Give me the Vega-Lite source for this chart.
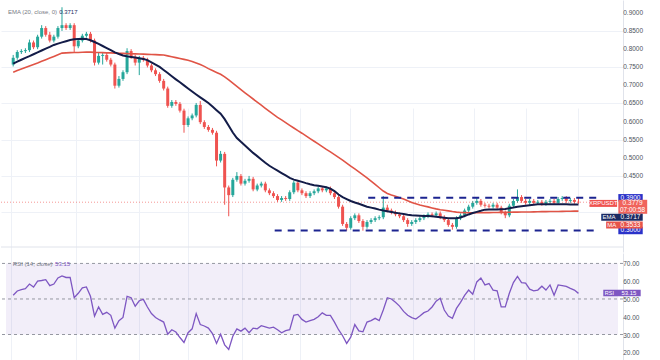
{
"$schema":"https://vega.github.io/schema/vega-lite/v6.json",
"padding":0,
"background":"white",
"width":622,"height":360,
"config":{"view":{"stroke":null},"text":{"font":"Liberation Sans"},"axis":{"labelFont":"Liberation Sans"}},
"datasets":{
"levels":[{"level":0.39,"start":87.3,"end":144.1},{"level":0.3,"start":64.3,"end":144.1}],
"plabels":[{"v":0.45},{"v":0.5},{"v":0.55},{"v":0.6},{"v":0.65},{"v":0.7},{"v":0.75},{"v":0.8},{"v":0.85},{"v":0.9}],
"rlabels":[{"v":20},{"v":30},{"v":40},{"v":50},{"v":60},{"v":70}],
"bars":[
{"k":0,"o":0.7571,"h":0.7836,"l":0.7518,"c":0.7757,"ema":0.7598,"ma":0.736,"rsi":52.1},
{"k":1,"o":0.7757,"h":0.7968,"l":0.7704,"c":0.7915,"ema":0.7651,"ma":0.7405,"rsi":54.5},
{"k":2,"o":0.7915,"h":0.7995,"l":0.7862,"c":0.7942,"ema":0.7704,"ma":0.7447,"rsi":55.3},
{"k":3,"o":0.7942,"h":0.8021,"l":0.7889,"c":0.7968,"ema":0.7757,"ma":0.7489,"rsi":55.8},
{"k":4,"o":0.7968,"h":0.8259,"l":0.7915,"c":0.818,"ema":0.7804,"ma":0.7532,"rsi":58.4},
{"k":5,"o":0.818,"h":0.8233,"l":0.7995,"c":0.8048,"ema":0.7855,"ma":0.7574,"rsi":56.7},
{"k":6,"o":0.8048,"h":0.8392,"l":0.7995,"c":0.8339,"ema":0.7905,"ma":0.7616,"rsi":60.1},
{"k":7,"o":0.8339,"h":0.8656,"l":0.8286,"c":0.8577,"ema":0.7958,"ma":0.7661,"rsi":60.4},
{"k":8,"o":0.8577,"h":0.863,"l":0.8339,"c":0.8392,"ema":0.8008,"ma":0.7706,"rsi":60.9},
{"k":9,"o":0.8392,"h":0.8471,"l":0.818,"c":0.8233,"ema":0.8058,"ma":0.7751,"rsi":57.5},
{"k":10,"o":0.8233,"h":0.8392,"l":0.818,"c":0.8339,"ema":0.8111,"ma":0.7796,"rsi":58.4},
{"k":11,"o":0.8339,"h":0.863,"l":0.8286,"c":0.8577,"ema":0.8148,"ma":0.7841,"rsi":61.8},
{"k":12,"o":0.8577,"h":0.915,"l":0.8497,"c":0.8656,"ema":0.8183,"ma":0.7886,"rsi":63.0},
{"k":13,"o":0.8656,"h":0.8709,"l":0.8524,"c":0.8577,"ema":0.8214,"ma":0.7894,"rsi":62.1},
{"k":14,"o":0.8577,"h":0.8709,"l":0.8524,"c":0.8656,"ema":0.8246,"ma":0.7899,"rsi":62.1},
{"k":15,"o":0.8656,"h":0.8709,"l":0.7889,"c":0.8074,"ema":0.8265,"ma":0.7902,"rsi":50.7},
{"k":16,"o":0.8074,"h":0.8286,"l":0.8021,"c":0.8233,"ema":0.8272,"ma":0.7905,"rsi":53.2},
{"k":17,"o":0.8233,"h":0.8418,"l":0.818,"c":0.8365,"ema":0.828,"ma":0.791,"rsi":56.3},
{"k":18,"o":0.8365,"h":0.8471,"l":0.8312,"c":0.8418,"ema":0.8272,"ma":0.7913,"rsi":56.8},
{"k":19,"o":0.8418,"h":0.8471,"l":0.818,"c":0.8233,"ema":0.8241,"ma":0.7913,"rsi":51.5},
{"k":20,"o":0.8233,"h":0.8286,"l":0.7545,"c":0.7624,"ema":0.8193,"ma":0.7907,"rsi":40.4},
{"k":21,"o":0.7624,"h":0.7889,"l":0.7571,"c":0.781,"ema":0.814,"ma":0.7905,"rsi":45.5},
{"k":22,"o":0.781,"h":0.7915,"l":0.7571,"c":0.7836,"ema":0.8082,"ma":0.7899,"rsi":41.3},
{"k":23,"o":0.7836,"h":0.7889,"l":0.7651,"c":0.7704,"ema":0.8026,"ma":0.7894,"rsi":42.5},
{"k":24,"o":0.7704,"h":0.7757,"l":0.7518,"c":0.7571,"ema":0.7966,"ma":0.7892,"rsi":40.8},
{"k":25,"o":0.7571,"h":0.7624,"l":0.691,"c":0.6989,"ema":0.7907,"ma":0.7886,"rsi":33.6},
{"k":26,"o":0.6989,"h":0.7254,"l":0.6936,"c":0.7175,"ema":0.7862,"ma":0.7881,"rsi":37.8},
{"k":27,"o":0.7175,"h":0.7413,"l":0.7122,"c":0.736,"ema":0.782,"ma":0.7878,"rsi":39.6},
{"k":28,"o":0.736,"h":0.8021,"l":0.7307,"c":0.7942,"ema":0.7796,"ma":0.7873,"rsi":51.5},
{"k":29,"o":0.7942,"h":0.7995,"l":0.773,"c":0.7783,"ema":0.778,"ma":0.7868,"rsi":50.7},
{"k":30,"o":0.7783,"h":0.7836,"l":0.7545,"c":0.7624,"ema":0.7765,"ma":0.7865,"rsi":45.9},
{"k":31,"o":0.7624,"h":0.781,"l":0.728,"c":0.7757,"ema":0.7743,"ma":0.786,"rsi":49.0},
{"k":32,"o":0.7757,"h":0.781,"l":0.7651,"c":0.7704,"ema":0.7722,"ma":0.7857,"rsi":49.8},
{"k":33,"o":0.7704,"h":0.7757,"l":0.7492,"c":0.7545,"ema":0.7693,"ma":0.7852,"rsi":45.5},
{"k":34,"o":0.7545,"h":0.7598,"l":0.736,"c":0.7413,"ema":0.763,"ma":0.7847,"rsi":41.8},
{"k":35,"o":0.7413,"h":0.7466,"l":0.7254,"c":0.7307,"ema":0.7569,"ma":0.7844,"rsi":39.6},
{"k":36,"o":0.7307,"h":0.736,"l":0.7069,"c":0.7122,"ema":0.7505,"ma":0.7839,"rsi":38.2},
{"k":37,"o":0.7122,"h":0.7175,"l":0.6857,"c":0.691,"ema":0.7423,"ma":0.7833,"rsi":37.0},
{"k":38,"o":0.691,"h":0.6963,"l":0.6381,"c":0.6434,"ema":0.7336,"ma":0.781,"rsi":30.2},
{"k":39,"o":0.6434,"h":0.6593,"l":0.6381,"c":0.654,"ema":0.7249,"ma":0.7786,"rsi":32.7},
{"k":40,"o":0.654,"h":0.6593,"l":0.6434,"c":0.6487,"ema":0.7164,"ma":0.7762,"rsi":31.4},
{"k":41,"o":0.6487,"h":0.654,"l":0.6249,"c":0.6302,"ema":0.7082,"ma":0.7738,"rsi":28.3},
{"k":42,"o":0.6302,"h":0.6355,"l":0.5693,"c":0.5905,"ema":0.6997,"ma":0.7714,"rsi":25.5},
{"k":43,"o":0.5905,"h":0.6143,"l":0.5852,"c":0.609,"ema":0.6913,"ma":0.7688,"rsi":31.0},
{"k":44,"o":0.609,"h":0.6222,"l":0.6037,"c":0.6169,"ema":0.6828,"ma":0.7656,"rsi":33.2},
{"k":45,"o":0.6169,"h":0.6513,"l":0.6116,"c":0.646,"ema":0.6746,"ma":0.7614,"rsi":41.8},
{"k":46,"o":0.646,"h":0.6566,"l":0.5931,"c":0.5984,"ema":0.6667,"ma":0.7571,"rsi":35.6},
{"k":47,"o":0.5984,"h":0.6037,"l":0.5799,"c":0.5852,"ema":0.659,"ma":0.7521,"rsi":34.8},
{"k":48,"o":0.5852,"h":0.5905,"l":0.572,"c":0.5772,"ema":0.6511,"ma":0.7458,"rsi":33.6},
{"k":49,"o":0.5772,"h":0.5825,"l":0.564,"c":0.5693,"ema":0.6415,"ma":0.7405,"rsi":30.5},
{"k":50,"o":0.5693,"h":0.5746,"l":0.4767,"c":0.4926,"ema":0.6315,"ma":0.7354,"rsi":25.0},
{"k":51,"o":0.4926,"h":0.5191,"l":0.4873,"c":0.5111,"ema":0.6217,"ma":0.7304,"rsi":30.2},
{"k":52,"o":0.5111,"h":0.5164,"l":0.3709,"c":0.4185,"ema":0.6066,"ma":0.7233,"rsi":24.2},
{"k":53,"o":0.4185,"h":0.4238,"l":0.3392,"c":0.3974,"ema":0.5884,"ma":0.7146,"rsi":21.6},
{"k":54,"o":0.3974,"h":0.445,"l":0.3921,"c":0.4397,"ema":0.5698,"ma":0.7058,"rsi":29.0},
{"k":55,"o":0.4397,"h":0.4608,"l":0.4344,"c":0.4503,"ema":0.5548,"ma":0.6971,"rsi":33.2},
{"k":56,"o":0.4503,"h":0.4556,"l":0.4238,"c":0.4291,"ema":0.5442,"ma":0.6881,"rsi":31.9},
{"k":57,"o":0.4291,"h":0.4423,"l":0.4238,"c":0.437,"ema":0.5341,"ma":0.6794,"rsi":33.6},
{"k":58,"o":0.437,"h":0.4503,"l":0.4317,"c":0.4423,"ema":0.5238,"ma":0.6709,"rsi":31.0},
{"k":59,"o":0.4423,"h":0.4476,"l":0.408,"c":0.4132,"ema":0.5138,"ma":0.6622,"rsi":33.6},
{"k":60,"o":0.4132,"h":0.4291,"l":0.408,"c":0.4238,"ema":0.5048,"ma":0.6537,"rsi":33.2},
{"k":61,"o":0.4238,"h":0.4344,"l":0.4185,"c":0.4291,"ema":0.4958,"ma":0.6452,"rsi":35.0},
{"k":62,"o":0.4291,"h":0.4344,"l":0.4053,"c":0.4106,"ema":0.4868,"ma":0.6365,"rsi":34.3},
{"k":63,"o":0.4106,"h":0.4159,"l":0.3974,"c":0.4027,"ema":0.4783,"ma":0.628,"rsi":33.6},
{"k":64,"o":0.4027,"h":0.408,"l":0.3894,"c":0.3948,"ema":0.4714,"ma":0.6196,"rsi":34.1},
{"k":65,"o":0.3948,"h":0.4,"l":0.3789,"c":0.3841,"ema":0.4648,"ma":0.6116,"rsi":32.7},
{"k":66,"o":0.3841,"h":0.3948,"l":0.3789,"c":0.3894,"ema":0.4582,"ma":0.6045,"rsi":31.0},
{"k":67,"o":0.3894,"h":0.3948,"l":0.3815,"c":0.3868,"ema":0.4516,"ma":0.5971,"rsi":32.2},
{"k":68,"o":0.3868,"h":0.4106,"l":0.3815,"c":0.4053,"ema":0.445,"ma":0.5897,"rsi":32.7},
{"k":69,"o":0.4053,"h":0.437,"l":0.4,"c":0.4317,"ema":0.4402,"ma":0.5823,"rsi":40.8},
{"k":70,"o":0.4317,"h":0.4344,"l":0.4053,"c":0.4106,"ema":0.437,"ma":0.5749,"rsi":41.3},
{"k":71,"o":0.4106,"h":0.4159,"l":0.3974,"c":0.4027,"ema":0.4339,"ma":0.568,"rsi":38.5},
{"k":72,"o":0.4027,"h":0.408,"l":0.3894,"c":0.3948,"ema":0.4304,"ma":0.5606,"rsi":37.0},
{"k":73,"o":0.3948,"h":0.408,"l":0.3894,"c":0.4027,"ema":0.4272,"ma":0.5532,"rsi":37.8},
{"k":74,"o":0.4027,"h":0.4132,"l":0.3974,"c":0.408,"ema":0.4249,"ma":0.5458,"rsi":38.5},
{"k":75,"o":0.408,"h":0.4212,"l":0.4027,"c":0.4159,"ema":0.423,"ma":0.5384,"rsi":40.0},
{"k":76,"o":0.4159,"h":0.4212,"l":0.4053,"c":0.4106,"ema":0.4212,"ma":0.5312,"rsi":42.2},
{"k":77,"o":0.4106,"h":0.4212,"l":0.4053,"c":0.4159,"ema":0.4193,"ma":0.5235,"rsi":40.8},
{"k":78,"o":0.4159,"h":0.4212,"l":0.3974,"c":0.4027,"ema":0.4151,"ma":0.5164,"rsi":40.8},
{"k":79,"o":0.4027,"h":0.408,"l":0.3868,"c":0.3921,"ema":0.4087,"ma":0.509,"rsi":37.0},
{"k":80,"o":0.3921,"h":0.3974,"l":0.3603,"c":0.3656,"ema":0.3992,"ma":0.5013,"rsi":32.7},
{"k":81,"o":0.3656,"h":0.3709,"l":0.3127,"c":0.318,"ema":0.3921,"ma":0.4937,"rsi":29.3},
{"k":82,"o":0.318,"h":0.3233,"l":0.2995,"c":0.3074,"ema":0.3865,"ma":0.4857,"rsi":25.0},
{"k":83,"o":0.3074,"h":0.3392,"l":0.3022,"c":0.3339,"ema":0.3812,"ma":0.4775,"rsi":28.5},
{"k":84,"o":0.3339,"h":0.3471,"l":0.3286,"c":0.3418,"ema":0.3772,"ma":0.4696,"rsi":35.6},
{"k":85,"o":0.3418,"h":0.3471,"l":0.3207,"c":0.326,"ema":0.3735,"ma":0.4614,"rsi":32.0},
{"k":86,"o":0.326,"h":0.3312,"l":0.2995,"c":0.3101,"ema":0.3696,"ma":0.4532,"rsi":31.5},
{"k":87,"o":0.3101,"h":0.3286,"l":0.3048,"c":0.3233,"ema":0.3656,"ma":0.4452,"rsi":37.0},
{"k":88,"o":0.3233,"h":0.3339,"l":0.318,"c":0.3286,"ema":0.363,"ma":0.4362,"rsi":37.8},
{"k":89,"o":0.3286,"h":0.3392,"l":0.3233,"c":0.3339,"ema":0.3603,"ma":0.427,"rsi":39.1},
{"k":90,"o":0.3339,"h":0.3418,"l":0.3286,"c":0.3365,"ema":0.3574,"ma":0.4177,"rsi":37.8},
{"k":91,"o":0.3365,"h":0.3948,"l":0.3312,"c":0.363,"ema":0.3548,"ma":0.4087,"rsi":43.8},
{"k":92,"o":0.363,"h":0.3709,"l":0.3498,"c":0.355,"ema":0.3529,"ma":0.4021,"rsi":50.7},
{"k":93,"o":0.355,"h":0.3603,"l":0.3445,"c":0.3498,"ema":0.3511,"ma":0.3979,"rsi":50.0},
{"k":94,"o":0.3498,"h":0.355,"l":0.3392,"c":0.3445,"ema":0.3489,"ma":0.3942,"rsi":48.1},
{"k":95,"o":0.3445,"h":0.3498,"l":0.3339,"c":0.3392,"ema":0.3471,"ma":0.3905,"rsi":46.0},
{"k":96,"o":0.3392,"h":0.3445,"l":0.3233,"c":0.3286,"ema":0.3455,"ma":0.3865,"rsi":43.0},
{"k":97,"o":0.3286,"h":0.3339,"l":0.3101,"c":0.318,"ema":0.3436,"ma":0.3817,"rsi":40.8},
{"k":98,"o":0.318,"h":0.3286,"l":0.3127,"c":0.3233,"ema":0.3421,"ma":0.3772,"rsi":39.5},
{"k":99,"o":0.3233,"h":0.3339,"l":0.318,"c":0.3286,"ema":0.3413,"ma":0.3738,"rsi":38.7},
{"k":100,"o":0.3286,"h":0.3392,"l":0.3233,"c":0.3339,"ema":0.3407,"ma":0.3704,"rsi":40.4},
{"k":101,"o":0.3339,"h":0.3445,"l":0.3286,"c":0.3392,"ema":0.3402,"ma":0.3677,"rsi":42.3},
{"k":102,"o":0.3392,"h":0.3498,"l":0.3339,"c":0.3445,"ema":0.3397,"ma":0.3651,"rsi":43.2},
{"k":103,"o":0.3445,"h":0.3498,"l":0.3365,"c":0.3418,"ema":0.3392,"ma":0.3622,"rsi":45.5},
{"k":104,"o":0.3418,"h":0.3524,"l":0.3365,"c":0.3471,"ema":0.3378,"ma":0.3595,"rsi":48.8},
{"k":105,"o":0.3471,"h":0.3524,"l":0.3312,"c":0.3365,"ema":0.3365,"ma":0.3571,"rsi":50.4},
{"k":106,"o":0.3365,"h":0.3418,"l":0.3233,"c":0.3286,"ema":0.3352,"ma":0.3556,"rsi":43.8},
{"k":107,"o":0.3286,"h":0.3339,"l":0.3101,"c":0.3154,"ema":0.3339,"ma":0.354,"rsi":40.4},
{"k":108,"o":0.3154,"h":0.3207,"l":0.3022,"c":0.3101,"ema":0.3339,"ma":0.3521,"rsi":39.1},
{"k":109,"o":0.3101,"h":0.3392,"l":0.3048,"c":0.3339,"ema":0.3339,"ma":0.3505,"rsi":44.7},
{"k":110,"o":0.3339,"h":0.3471,"l":0.3286,"c":0.3418,"ema":0.3357,"ma":0.3495,"rsi":48.1},
{"k":111,"o":0.3418,"h":0.3603,"l":0.3365,"c":0.355,"ema":0.3399,"ma":0.3492,"rsi":52.0},
{"k":112,"o":0.355,"h":0.3709,"l":0.3498,"c":0.3656,"ema":0.3442,"ma":0.3487,"rsi":55.0},
{"k":113,"o":0.3656,"h":0.3815,"l":0.3603,"c":0.3762,"ema":0.3481,"ma":0.3484,"rsi":52.7},
{"k":114,"o":0.3762,"h":0.3921,"l":0.3709,"c":0.3815,"ema":0.3513,"ma":0.3487,"rsi":59.6},
{"k":115,"o":0.3815,"h":0.3868,"l":0.3656,"c":0.3709,"ema":0.3542,"ma":0.3489,"rsi":61.8},
{"k":116,"o":0.3709,"h":0.3762,"l":0.363,"c":0.3682,"ema":0.3574,"ma":0.3492,"rsi":57.9},
{"k":117,"o":0.3682,"h":0.3736,"l":0.3603,"c":0.3656,"ema":0.3577,"ma":0.3492,"rsi":58.7},
{"k":118,"o":0.3656,"h":0.3762,"l":0.3603,"c":0.3709,"ema":0.3577,"ma":0.3495,"rsi":55.0},
{"k":119,"o":0.3709,"h":0.3762,"l":0.3577,"c":0.363,"ema":0.3577,"ma":0.3497,"rsi":54.6},
{"k":120,"o":0.363,"h":0.3682,"l":0.3445,"c":0.3498,"ema":0.3585,"ma":0.35,"rsi":45.5},
{"k":121,"o":0.3498,"h":0.355,"l":0.3339,"c":0.3418,"ema":0.3595,"ma":0.35,"rsi":45.5},
{"k":122,"o":0.3418,"h":0.3736,"l":0.3365,"c":0.3682,"ema":0.3611,"ma":0.3503,"rsi":53.2},
{"k":123,"o":0.3682,"h":0.3868,"l":0.363,"c":0.3815,"ema":0.3632,"ma":0.3505,"rsi":59.2},
{"k":124,"o":0.3815,"h":0.4132,"l":0.3762,"c":0.3921,"ema":0.3656,"ma":0.3505,"rsi":62.7},
{"k":125,"o":0.3921,"h":0.3974,"l":0.3762,"c":0.3815,"ema":0.3669,"ma":0.3508,"rsi":59.2},
{"k":126,"o":0.3815,"h":0.3868,"l":0.3709,"c":0.3762,"ema":0.3683,"ma":0.3511,"rsi":58.9},
{"k":127,"o":0.3762,"h":0.3868,"l":0.3709,"c":0.3815,"ema":0.3696,"ma":0.3511,"rsi":55.5},
{"k":128,"o":0.3815,"h":0.3868,"l":0.3709,"c":0.3762,"ema":0.3709,"ma":0.3513,"rsi":54.6},
{"k":129,"o":0.3762,"h":0.3841,"l":0.3709,"c":0.3789,"ema":0.3722,"ma":0.3516,"rsi":55.0},
{"k":130,"o":0.3789,"h":0.3841,"l":0.3682,"c":0.3736,"ema":0.3722,"ma":0.3519,"rsi":57.2},
{"k":131,"o":0.3736,"h":0.3841,"l":0.3682,"c":0.3789,"ema":0.3722,"ma":0.3519,"rsi":55.0},
{"k":132,"o":0.3789,"h":0.3868,"l":0.3736,"c":0.3815,"ema":0.372,"ma":0.3521,"rsi":57.9},
{"k":133,"o":0.3815,"h":0.3868,"l":0.3709,"c":0.3762,"ema":0.372,"ma":0.3524,"rsi":52.1},
{"k":134,"o":0.3762,"h":0.3921,"l":0.3709,"c":0.3868,"ema":0.372,"ma":0.3524,"rsi":57.9},
{"k":135,"o":0.3868,"h":0.3948,"l":0.3815,"c":0.3894,"ema":0.372,"ma":0.3526,"rsi":57.5},
{"k":136,"o":0.3894,"h":0.3948,"l":0.3762,"c":0.3815,"ema":0.372,"ma":0.3529,"rsi":57.1},
{"k":137,"o":0.3815,"h":0.3894,"l":0.3762,"c":0.3841,"ema":0.3717,"ma":0.3529,"rsi":56.0},
{"k":138,"o":0.3841,"h":0.3894,"l":0.3736,"c":0.3789,"ema":0.3717,"ma":0.3532,"rsi":55.0},
{"k":139,"o":0.3789,"h":0.3921,"l":0.3736,"c":0.3779,"ema":0.3717,"ma":0.3533,"rsi":53.15}
]},
"data":{"name":"bars"},
"resolve":{"scale":{"y":"independent"},"axis":{"y":"independent"}},
"layer":[
{"layer":[
{"mark":{"type":"rule","strokeWidth":1},
 "encoding":{
  "x":{"field":"k","type":"quantitative","title":null,"scale":{"domain":[-1.77,148.72],"nice":false,"zero":false},
   "axis":{"orient":"bottom","values":[-0.6,15.4,30.9,43,56.3,70.6,82.7,98.2,113.4,126,139],"labels":false,"ticks":false,"domain":false,"grid":true,"gridColor":"#eef1f7","title":null}},
  "y":{"field":"l","type":"quantitative","title":null,"scale":{"domain":[0.2545,0.92116],"range":[252,0],"nice":false,"zero":false},
   "axis":{"orient":"right","values":[0.35,0.4,0.45,0.5,0.55,0.6,0.65,0.7,0.75,0.8,0.85,0.9],"labels":false,"ticks":false,"domain":true,"domainColor":"#e0e3eb","grid":true,"gridColor":"#eef1f7","title":null}},
  "y2":{"field":"h"},
  "color":{"condition":{"test":"datum.c >= datum.o","value":"#26a69a"},"value":"#ef5350"}}},
{"transform":[{"filter":"datum.k == 139"}],"mark":{"type":"rule","color":"#e0e3eb","strokeWidth":1},
 "encoding":{"y":{"datum":0.2545,"type":"quantitative","title":null,"scale":{"domain":[0.2545,0.92116],"range":[252,0],"nice":false,"zero":false}}}},
{"transform":[{"filter":"datum.k == 139"}],"mark":{"type":"rule","color":"#ef5350","strokeDash":[1,2],"strokeWidth":1,"opacity":0.6},
 "encoding":{"y":{"field":"c","type":"quantitative","title":null,"scale":{"domain":[0.2545,0.92116],"range":[252,0],"nice":false,"zero":false}}}},
{"mark":{"type":"bar","size":3,"orient":"vertical"},
 "encoding":{
  "x":{"field":"k","type":"quantitative","title":null,"scale":{"domain":[-1.77,148.72],"nice":false,"zero":false}},
  "y":{"field":"o","type":"quantitative","title":null,"scale":{"domain":[0.2545,0.92116],"range":[252,0],"nice":false,"zero":false}},
  "y2":{"field":"c"},
  "color":{"condition":{"test":"datum.c >= datum.o","value":"#26a69a"},"value":"#ef5350"}}},
{"mark":{"type":"line","color":"#e05446","strokeWidth":1.6},
 "encoding":{
  "x":{"field":"k","type":"quantitative","title":null,"scale":{"domain":[-1.77,148.72],"nice":false,"zero":false}},
  "y":{"field":"ma","type":"quantitative","title":null,"scale":{"domain":[0.2545,0.92116],"range":[252,0],"nice":false,"zero":false}}}},
{"mark":{"type":"line","color":"#131c48","strokeWidth":2},
 "encoding":{
  "x":{"field":"k","type":"quantitative","title":null,"scale":{"domain":[-1.77,148.72],"nice":false,"zero":false}},
  "y":{"field":"ema","type":"quantitative","title":null,"scale":{"domain":[0.2545,0.92116],"range":[252,0],"nice":false,"zero":false}}}},
{"data":{"name":"levels"},"mark":{"type":"rule","color":"#1c2490","strokeWidth":2,"strokeDash":[7,6]},
 "encoding":{
  "x":{"field":"start","type":"quantitative","title":null,"scale":{"domain":[-1.77,148.72],"nice":false,"zero":false}},
  "x2":{"field":"end"},
  "y":{"field":"level","type":"quantitative","title":null,"scale":{"domain":[0.2545,0.92116],"range":[252,0],"nice":false,"zero":false}}}},
{"data":{"name":"plabels"},"mark":{"type":"text","color":"#50535e","fontSize":6.5,"align":"left","baseline":"middle"},
 "encoding":{
  "x":{"datum":150.0,"type":"quantitative","title":null,"scale":{"domain":[-1.77,148.72],"nice":false,"zero":false}},
  "y":{"field":"v","type":"quantitative","title":null,"scale":{"domain":[0.2545,0.92116],"range":[252,0],"nice":false,"zero":false}},
  "text":{"field":"v","format":".4f"}}},
{"data":{"name":"levels"},"mark":{"type":"bar","orient":"horizontal","size":7.5,"color":"#2a32c9"},
 "encoding":{
  "x":{"datum":148.8,"type":"quantitative","title":null,"scale":{"domain":[-1.77,148.72],"nice":false,"zero":false}},
  "x2":{"datum":154.8},
  "y":{"field":"level","type":"quantitative","title":null,"scale":{"domain":[0.2545,0.92116],"range":[252,0],"nice":false,"zero":false}}}},
{"data":{"name":"levels"},"mark":{"type":"text","color":"white","fontSize":6.5,"align":"center","baseline":"middle"},
 "encoding":{
  "x":{"datum":151.8,"type":"quantitative","title":null,"scale":{"domain":[-1.77,148.72],"nice":false,"zero":false}},
  "y":{"field":"level","type":"quantitative","title":null,"scale":{"domain":[0.2545,0.92116],"range":[252,0],"nice":false,"zero":false}},
  "text":{"field":"level","format":".4f"}}},
{"transform":[{"filter":"datum.k == 139"}],"mark":{"type":"bar","orient":"horizontal","size":7,"color":"#ef5350","yOffset":1.2},
 "encoding":{
  "x":{"datum":141.7,"type":"quantitative","title":null,"scale":{"domain":[-1.77,148.72],"nice":false,"zero":false}},
  "x2":{"datum":148.5},
  "y":{"field":"c","type":"quantitative","title":null,"scale":{"domain":[0.2545,0.92116],"range":[252,0],"nice":false,"zero":false}}}},
{"transform":[{"filter":"datum.k == 139"}],"mark":{"type":"text","color":"white","fontSize":6,"align":"center","baseline":"middle","yOffset":1.2},
 "encoding":{
  "x":{"datum":145.1,"type":"quantitative","title":null,"scale":{"domain":[-1.77,148.72],"nice":false,"zero":false}},
  "y":{"field":"c","type":"quantitative","title":null,"scale":{"domain":[0.2545,0.92116],"range":[252,0],"nice":false,"zero":false}},
  "text":{"value":"XRPUSDT"}}},
{"transform":[{"filter":"datum.k == 139"}],"mark":{"type":"bar","orient":"horizontal","size":14,"color":"#f0645c","yOffset":4.6},
 "encoding":{
  "x":{"datum":148.8,"type":"quantitative","title":null,"scale":{"domain":[-1.77,148.72],"nice":false,"zero":false}},
  "x2":{"datum":155.9},
  "y":{"field":"c","type":"quantitative","title":null,"scale":{"domain":[0.2545,0.92116],"range":[252,0],"nice":false,"zero":false}}}},
{"transform":[{"filter":"datum.k == 139"}],"mark":{"type":"text","color":"white","fontSize":6.5,"align":"center","baseline":"middle","yOffset":1.2},
 "encoding":{
  "x":{"datum":152.3,"type":"quantitative","title":null,"scale":{"domain":[-1.77,148.72],"nice":false,"zero":false}},
  "y":{"field":"c","type":"quantitative","title":null,"scale":{"domain":[0.2545,0.92116],"range":[252,0],"nice":false,"zero":false}},
  "text":{"field":"c","format":".4f"}}},
{"transform":[{"filter":"datum.k == 139"}],"mark":{"type":"text","color":"white","fontSize":6.5,"align":"center","baseline":"middle","yOffset":8.2},
 "encoding":{
  "x":{"datum":152.3,"type":"quantitative","title":null,"scale":{"domain":[-1.77,148.72],"nice":false,"zero":false}},
  "y":{"field":"c","type":"quantitative","title":null,"scale":{"domain":[0.2545,0.92116],"range":[252,0],"nice":false,"zero":false}},
  "text":{"value":"07:00:58"}}},
{"transform":[{"filter":"datum.k == 139"}],"mark":{"type":"bar","orient":"horizontal","size":7,"color":"#1b2a63","yOffset":12.8},
 "encoding":{
  "x":{"datum":144.6,"type":"quantitative","title":null,"scale":{"domain":[-1.77,148.72],"nice":false,"zero":false}},
  "x2":{"datum":154.8},
  "y":{"field":"ema","type":"quantitative","title":null,"scale":{"domain":[0.2545,0.92116],"range":[252,0],"nice":false,"zero":false}}}},
{"transform":[{"filter":"datum.k == 139"}],"mark":{"type":"text","color":"white","fontSize":6,"align":"center","baseline":"middle","yOffset":12.8},
 "encoding":{
  "x":{"datum":146.5,"type":"quantitative","title":null,"scale":{"domain":[-1.77,148.72],"nice":false,"zero":false}},
  "y":{"field":"ema","type":"quantitative","title":null,"scale":{"domain":[0.2545,0.92116],"range":[252,0],"nice":false,"zero":false}},
  "text":{"value":"EMA"}}},
{"transform":[{"filter":"datum.k == 139"}],"mark":{"type":"text","color":"white","fontSize":6.5,"align":"center","baseline":"middle","yOffset":12.8},
 "encoding":{
  "x":{"datum":151.8,"type":"quantitative","title":null,"scale":{"domain":[-1.77,148.72],"nice":false,"zero":false}},
  "y":{"field":"ema","type":"quantitative","title":null,"scale":{"domain":[0.2545,0.92116],"range":[252,0],"nice":false,"zero":false}},
  "text":{"field":"ema","format":".4f"}}},
{"transform":[{"filter":"datum.k == 139"}],"mark":{"type":"bar","orient":"horizontal","size":7,"color":"#e8544a","yOffset":13.8},
 "encoding":{
  "x":{"datum":145.8,"type":"quantitative","title":null,"scale":{"domain":[-1.77,148.72],"nice":false,"zero":false}},
  "x2":{"datum":154.8},
  "y":{"field":"ma","type":"quantitative","title":null,"scale":{"domain":[0.2545,0.92116],"range":[252,0],"nice":false,"zero":false}}}},
{"transform":[{"filter":"datum.k == 139"}],"mark":{"type":"text","color":"white","fontSize":6,"align":"center","baseline":"middle","yOffset":13.8},
 "encoding":{
  "x":{"datum":147.2,"type":"quantitative","title":null,"scale":{"domain":[-1.77,148.72],"nice":false,"zero":false}},
  "y":{"field":"ma","type":"quantitative","title":null,"scale":{"domain":[0.2545,0.92116],"range":[252,0],"nice":false,"zero":false}},
  "text":{"value":"MA"}}},
{"transform":[{"filter":"datum.k == 139"}],"mark":{"type":"text","color":"white","fontSize":6.5,"align":"center","baseline":"middle","yOffset":13.8},
 "encoding":{
  "x":{"datum":151.8,"type":"quantitative","title":null,"scale":{"domain":[-1.77,148.72],"nice":false,"zero":false}},
  "y":{"field":"ma","type":"quantitative","title":null,"scale":{"domain":[0.2545,0.92116],"range":[252,0],"nice":false,"zero":false}},
  "text":{"field":"ma","format":".4f"}}},
{"transform":[{"filter":"datum.k == 139"}],"mark":{"type":"text","color":"#787b86","fontSize":6,"align":"left","baseline":"middle"},
 "encoding":{
  "x":{"datum":-1.29,"type":"quantitative","title":null,"scale":{"domain":[-1.77,148.72],"nice":false,"zero":false}},
  "y":{"datum":0.9026,"type":"quantitative","title":null,"scale":{"domain":[0.2545,0.92116],"range":[252,0],"nice":false,"zero":false}},
  "text":{"value":"EMA (20, close, 0)"}}},
{"transform":[{"filter":"datum.k == 139"}],"mark":{"type":"text","color":"#1b2a63","fontSize":6,"align":"left","baseline":"middle"},
 "encoding":{
  "x":{"datum":11.3,"type":"quantitative","title":null,"scale":{"domain":[-1.77,148.72],"nice":false,"zero":false}},
  "y":{"datum":0.9026,"type":"quantitative","title":null,"scale":{"domain":[0.2545,0.92116],"range":[252,0],"nice":false,"zero":false}},
  "text":{"field":"ema","format":".4f"}}}
]},
{"layer":[
{"data":{"values":[{"lo":30,"hi":70}]},"mark":{"type":"rect","color":"#7e57c2","opacity":0.1},
 "encoding":{
  "x":{"datum":-1.77,"type":"quantitative","title":null,"scale":{"domain":[-1.77,148.72],"nice":false,"zero":false}},
  "x2":{"datum":148.72},
  "y":{"field":"lo","type":"quantitative","title":null,"scale":{"domain":[18.47,73.06],"range":[360,253],"nice":false,"zero":false}},
  "y2":{"field":"hi"}}},
{"data":{"values":[{"level":70},{"level":50},{"level":30}]},"mark":{"type":"rule","color":"#9598a1","strokeDash":[3,3],"strokeWidth":1},
 "encoding":{
  "y":{"field":"level","type":"quantitative","title":null,"scale":{"domain":[18.47,73.06],"range":[360,253],"nice":false,"zero":false}}}},
{"mark":{"type":"line","color":"#7e57c2","strokeWidth":1.3},
 "encoding":{
  "x":{"field":"k","type":"quantitative","title":null,"scale":{"domain":[-1.77,148.72],"nice":false,"zero":false}},
  "y":{"field":"rsi","type":"quantitative","title":null,"scale":{"domain":[18.47,73.06],"range":[360,253],"nice":false,"zero":false},
   "axis":{"orient":"right","values":[20,30,40,50,60,70],"labels":false,"ticks":false,"domain":true,"domainColor":"#e0e3eb","grid":false,"title":null}}}},
{"data":{"name":"rlabels"},"mark":{"type":"text","color":"#50535e","fontSize":6.5,"align":"left","baseline":"middle","yOffset":1},
 "encoding":{
  "x":{"datum":150.0,"type":"quantitative","title":null,"scale":{"domain":[-1.77,148.72],"nice":false,"zero":false}},
  "y":{"field":"v","type":"quantitative","title":null,"scale":{"domain":[18.47,73.06],"range":[360,253],"nice":false,"zero":false}},
  "text":{"field":"v","format":".2f"}}},
{"transform":[{"filter":"datum.k == 139"}],"mark":{"type":"bar","orient":"horizontal","size":6.5,"color":"#7e57c2","yOffset":-0.5},
 "encoding":{
  "x":{"datum":145.1,"type":"quantitative","title":null,"scale":{"domain":[-1.77,148.72],"nice":false,"zero":false}},
  "x2":{"datum":154.3},
  "y":{"field":"rsi","type":"quantitative","title":null,"scale":{"domain":[18.47,73.06],"range":[360,253],"nice":false,"zero":false}}}},
{"transform":[{"filter":"datum.k == 139"}],"mark":{"type":"text","color":"white","fontSize":5.5,"align":"center","baseline":"middle","yOffset":-0.5},
 "encoding":{
  "x":{"datum":146.6,"type":"quantitative","title":null,"scale":{"domain":[-1.77,148.72],"nice":false,"zero":false}},
  "y":{"field":"rsi","type":"quantitative","title":null,"scale":{"domain":[18.47,73.06],"range":[360,253],"nice":false,"zero":false}},
  "text":{"value":"RSI"}}},
{"transform":[{"filter":"datum.k == 139"}],"mark":{"type":"text","color":"white","fontSize":6,"align":"center","baseline":"middle","yOffset":-0.5},
 "encoding":{
  "x":{"datum":151.4,"type":"quantitative","title":null,"scale":{"domain":[-1.77,148.72],"nice":false,"zero":false}},
  "y":{"field":"rsi","type":"quantitative","title":null,"scale":{"domain":[18.47,73.06],"range":[360,253],"nice":false,"zero":false}},
  "text":{"field":"rsi","format":".2f"}}},
{"transform":[{"filter":"datum.k == 139"}],"mark":{"type":"text","color":"#787b86","fontSize":6,"align":"left","baseline":"middle"},
 "encoding":{
  "x":{"datum":-0.1,"type":"quantitative","title":null,"scale":{"domain":[-1.77,148.72],"nice":false,"zero":false}},
  "y":{"datum":69.5,"type":"quantitative","title":null,"scale":{"domain":[18.47,73.06],"range":[360,253],"nice":false,"zero":false}},
  "text":{"value":"RSI (14, close)"}}},
{"transform":[{"filter":"datum.k == 139"}],"mark":{"type":"text","color":"#7e57c2","fontSize":6,"align":"left","baseline":"middle"},
 "encoding":{
  "x":{"datum":10.3,"type":"quantitative","title":null,"scale":{"domain":[-1.77,148.72],"nice":false,"zero":false}},
  "y":{"datum":69.5,"type":"quantitative","title":null,"scale":{"domain":[18.47,73.06],"range":[360,253],"nice":false,"zero":false}},
  "text":{"field":"rsi","format":".2f"}}}
]}
]
}
